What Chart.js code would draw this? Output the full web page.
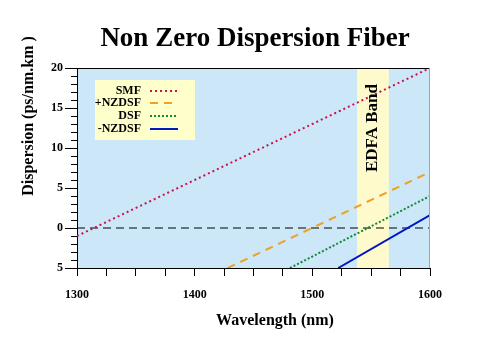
<!DOCTYPE html>
<html>
<head>
<meta charset="utf-8">
<script src="https://cdn.jsdelivr.net/npm/chart.js@4"></script>
<style>
    html, body { margin: 0; padding: 0; background: #ffffff; }
    #wrap { width: 477px; height: 358px; }
</style>
</head>
<body>
<div id="wrap"><canvas id="fiberChart" width="477" height="358"></canvas></div>
<script>
// datos
const fiberLabels = ['SMF', '+NZDSF', 'DSF', '-NZDSF'];
const smfX = [1300, 1600];
const smfY = [-1, 20];
const nzdsfPlusX = [1428, 1600];
const nzdsfPlusY = [-5, 7];
const dsfX = [1481, 1600];
const dsfY = [-5, 4];
const nzdsfMinusX = [1522, 1600];
const nzdsfMinusY = [-5, 1.6];
const zeroX = [1300, 1600];
const zeroY = [0, 0];
const edfaBand = [1538, 1565];
const xTickLabels = [1300, 1400, 1500, 1600];
const yTickLabels = { '-5': '5', '0': '0', '5': '5', '10': '10', '15': '15', '20': '20' };

const SERIF = '"Liberation Serif", "DejaVu Serif", serif';

function toPoints(xs, ys) {
    return xs.map((x, i) => ({ x: x, y: ys[i] }));
}

/**
 * Fondo, banda EDFA, marcas menores, titulos y leyenda
 */
const decorPlugin = {
    id: 'decor',
    beforeDraw(chart) {
        const { ctx, chartArea: a, scales } = chart;
        ctx.save();
        ctx.fillStyle = '#ffffff';
        ctx.fillRect(0, 0, chart.width, chart.height);
        ctx.fillStyle = '#cce8f8';
        ctx.fillRect(a.left, a.top, a.right - a.left, a.bottom - a.top);
        const x0 = scales.x.getPixelForValue(edfaBand[0]);
        const x1 = scales.x.getPixelForValue(edfaBand[1]);
        ctx.fillStyle = '#fffacc';
        ctx.fillRect(x0, a.top, x1 - x0, a.bottom - a.top);
        ctx.restore();
    },
    afterDatasetsDraw(chart) {
        const { ctx, chartArea: a, scales } = chart;
        ctx.save();
        // borde superior y derecho
        ctx.strokeStyle = '#000000';
        ctx.lineWidth = 1;
        ctx.beginPath();
        ctx.moveTo(a.left, a.top + 0.5);
        ctx.lineTo(a.right, a.top + 0.5);
        ctx.stroke();
        ctx.strokeStyle = '#9aa8b0';
        ctx.beginPath();
        ctx.moveTo(a.right - 0.5, a.top);
        ctx.lineTo(a.right - 0.5, a.bottom);
        ctx.stroke();

        // marcas menores del eje y
        ctx.strokeStyle = '#000000';
        ctx.beginPath();
        for (let v = -5; v <= 20; v++) {
            if (v % 5 === 0) continue;
            const y = Math.round(scales.y.getPixelForValue(v)) + 0.5;
            ctx.moveTo(a.left - 6, y);
            ctx.lineTo(a.left, y);
        }
        ctx.stroke();

        // texto de la banda EDFA
        const bx = (scales.x.getPixelForValue(edfaBand[0]) + scales.x.getPixelForValue(edfaBand[1])) / 2;
        ctx.translate(bx, 128);
        ctx.rotate(-Math.PI / 2);
        ctx.fillStyle = '#000000';
        ctx.font = 'bold 17px ' + SERIF;
        ctx.textAlign = 'center';
        ctx.textBaseline = 'middle';
        ctx.fillText('EDFA Band', 0, 0);
        ctx.restore();

        // leyenda
        ctx.save();
        ctx.fillStyle = '#ffffcc';
        ctx.fillRect(95, 80, 100, 60);
        ctx.font = 'bold 12px ' + SERIF;
        ctx.textAlign = 'right';
        ctx.textBaseline = 'middle';
        const rows = [91, 103, 116, 129];
        chart.data.datasets.slice(0, 4).forEach((ds, i) => {
            ctx.fillStyle = '#000000';
            ctx.fillText(ds.label, 141, rows[i]);
            ctx.strokeStyle = ds.borderColor;
            ctx.lineWidth = ds.borderWidth;
            ctx.setLineDash(ds.borderDash || []);
            ctx.beginPath();
            ctx.moveTo(150, rows[i]);
            ctx.lineTo(178, rows[i]);
            ctx.stroke();
        });
        ctx.restore();
    },
    afterDraw(chart) {
        const { ctx } = chart;
        ctx.save();
        ctx.fillStyle = '#000000';
        ctx.textAlign = 'center';
        ctx.textBaseline = 'alphabetic';
        ctx.font = 'bold 27px ' + SERIF;
        ctx.fillText('Non Zero Dispersion Fiber', 255, 46);
        ctx.font = 'bold 16px ' + SERIF;
        ctx.fillText('Wavelength (nm)', 275, 325);
        ctx.translate(33, 116);
        ctx.rotate(-Math.PI / 2);
        ctx.fillText('Dispersion (ps/nm.km )', 0, 0);
        ctx.restore();
    }
};

new Chart(document.getElementById('fiberChart').getContext('2d'), {
    type: 'line',
    data: {
        datasets: [
            {
                label: fiberLabels[0],
                data: toPoints(smfX, smfY),
                borderColor: '#cc1050',
                borderWidth: 2,
                borderDash: [2, 3]
            },
            {
                label: fiberLabels[1],
                data: toPoints(nzdsfPlusX, nzdsfPlusY),
                borderColor: '#f0a028',
                borderWidth: 2,
                borderDash: [8, 6]
            },
            {
                label: fiberLabels[2],
                data: toPoints(dsfX, dsfY),
                borderColor: '#118833',
                borderWidth: 2,
                borderDash: [2, 2]
            },
            {
                label: fiberLabels[3],
                data: toPoints(nzdsfMinusX, nzdsfMinusY),
                borderColor: '#0018c0',
                borderWidth: 2
            },
            {
                label: 'zero',
                data: toPoints(zeroX, zeroY),
                borderColor: '#000000',
                borderWidth: 1,
                borderDash: [8, 5]
            }
        ]
    },
    options: {
        responsive: false,
        animation: false,
        events: [],
        elements: {
            point: { radius: 0 },
            line: { tension: 0, fill: false }
        },
        layout: { padding: { left: 0, top: 68, right: 47, bottom: 0 } },
        plugins: {
            legend: { display: false },
            tooltip: { enabled: false },
            title: { display: false }
        },
        scales: {
            x: {
                type: 'linear',
                min: 1300,
                max: 1600,
                afterFit: (scale) => { scale.height = 90; },
                border: { color: '#000000', width: 1 },
                grid: {
                    drawOnChartArea: false,
                    tickLength: 8,
                    tickColor: '#000000'
                },
                ticks: {
                    stepSize: 25,
                    autoSkip: false,
                    maxRotation: 0,
                    padding: 12,
                    color: '#000000',
                    font: { family: SERIF, size: 12, weight: 'bold' },
                    callback: (v) => xTickLabels.includes(v) ? String(v) : ''
                }
            },
            y: {
                min: -5,
                max: 20,
                afterFit: (scale) => { scale.width = 77; },
                border: { color: '#000000', width: 1 },
                grid: {
                    drawOnChartArea: false,
                    tickLength: 12,
                    tickColor: '#000000'
                },
                ticks: {
                    stepSize: 5,
                    padding: 2,
                    color: '#000000',
                    font: { family: SERIF, size: 12, weight: 'bold' },
                    callback: (v) => yTickLabels[String(v)]
                }
            }
        }
    },
    plugins: [decorPlugin]
});
</script>
</body>
</html>
